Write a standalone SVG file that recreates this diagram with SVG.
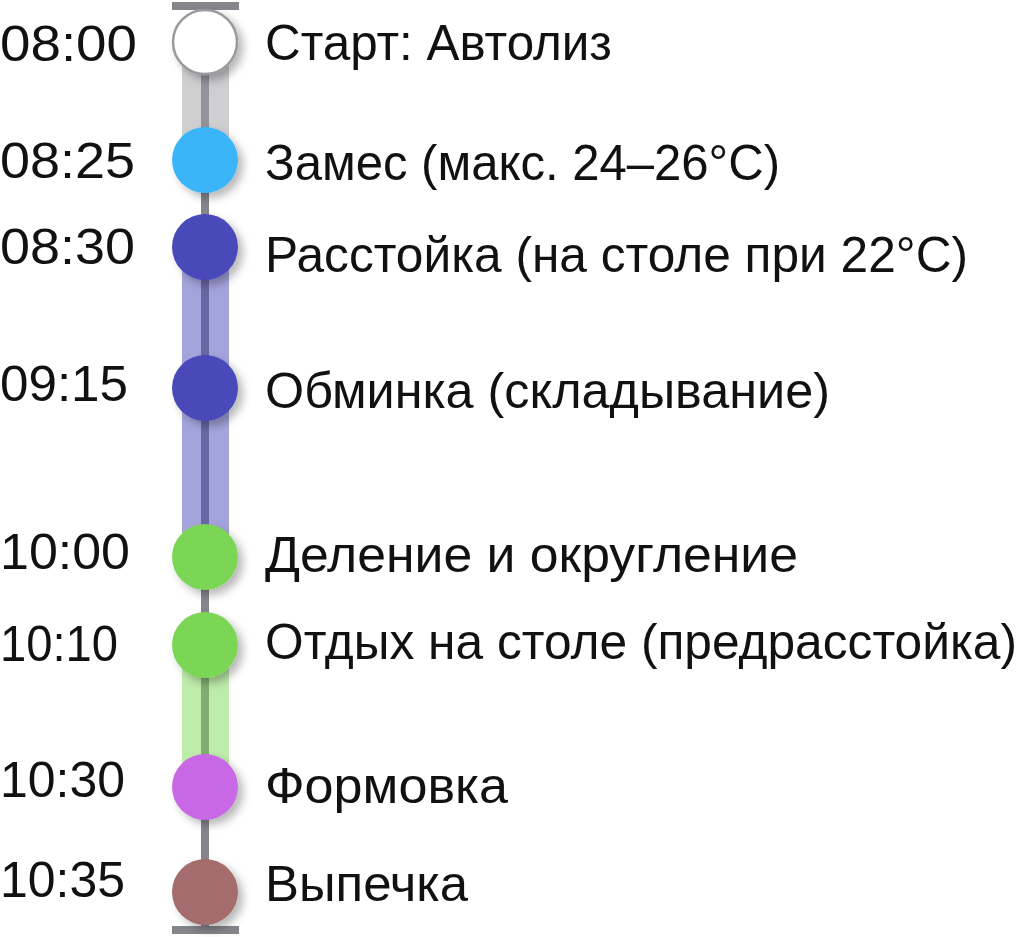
<svg xmlns="http://www.w3.org/2000/svg" width="1024" height="937" viewBox="0 0 1024 937">
<defs>
<filter id="sh" x="-50%" y="-50%" width="200%" height="200%">
<feDropShadow dx="5" dy="5" stdDeviation="4" flood-color="#000" flood-opacity="0.28"/>
</filter>
</defs>
<style>
text{font-family:"Liberation Sans","DejaVu Sans",sans-serif;font-size:50px;fill:#111}
.line{fill:#85858c}
.cap{fill:#85858c}
.dot{filter:url(#sh)}
</style>
<rect width="1024" height="937" fill="#fff"/>
<g id="connectors">
<rect class="line" x="201" y="6" width="8" height="924"/>
<rect x="182" y="42" width="47" height="118" fill="#a0a0a6" opacity="0.5"/>
<rect x="182" y="247" width="47" height="310" fill="#4a4aba" opacity="0.5"/>
<rect x="182" y="645" width="47" height="142" fill="#7ed957" opacity="0.5"/>
<rect class="cap" x="172" y="2" width="67" height="8"/>
<rect class="cap" x="172" y="926" width="67" height="8"/>
</g>
<g id="n0800">
<circle class="dot" cx="205" cy="42" r="32" fill="#fff" stroke="#9a9a9e" stroke-width="2.5"/>
<text x="0" y="61" textLength="137" lengthAdjust="spacingAndGlyphs">08:00</text>
<text x="265" y="60" textLength="347" lengthAdjust="spacingAndGlyphs">Старт: Автолиз</text>
</g>
<g id="n0825">
<circle class="dot" cx="205" cy="160" r="33" fill="#3bb5f8"/>
<text x="0" y="178" textLength="135" lengthAdjust="spacingAndGlyphs">08:25</text>
<text x="265" y="180" textLength="515" lengthAdjust="spacingAndGlyphs">Замес (макс. 24–26°C)</text>
</g>
<g id="n0830">
<circle class="dot" cx="205" cy="247" r="33" fill="#4949b9"/>
<text x="0" y="264" textLength="135" lengthAdjust="spacingAndGlyphs">08:30</text>
<text x="265" y="272" textLength="703" lengthAdjust="spacingAndGlyphs">Расстойка (на столе при 22°C)</text>
</g>
<g id="n0915">
<circle class="dot" cx="205" cy="388" r="33" fill="#4949b9"/>
<text x="0" y="401" textLength="128" lengthAdjust="spacingAndGlyphs">09:15</text>
<text x="265" y="408" textLength="565" lengthAdjust="spacingAndGlyphs">Обминка (складывание)</text>
</g>
<g id="n1000">
<circle class="dot" cx="205" cy="557" r="33" fill="#7cd657"/>
<text x="0" y="569" textLength="130" lengthAdjust="spacingAndGlyphs">10:00</text>
<text x="265" y="572" textLength="533" lengthAdjust="spacingAndGlyphs">Деление и округление</text>
</g>
<g id="n1010">
<circle class="dot" cx="205" cy="645" r="33" fill="#7cd657"/>
<text x="0" y="661" textLength="118" lengthAdjust="spacingAndGlyphs">10:10</text>
<text x="265" y="659" textLength="752" lengthAdjust="spacingAndGlyphs">Отдых на столе (предрасстойка)</text>
</g>
<g id="n1030">
<circle class="dot" cx="205" cy="787" r="33" fill="#c968e4"/>
<text x="0" y="797" textLength="125" lengthAdjust="spacingAndGlyphs">10:30</text>
<text x="265" y="803" textLength="243" lengthAdjust="spacingAndGlyphs">Формовка</text>
</g>
<g id="n1035">
<circle class="dot" cx="205" cy="892" r="33" fill="#a46c6c"/>
<text x="0" y="897" textLength="125" lengthAdjust="spacingAndGlyphs">10:35</text>
<text x="265" y="901" textLength="203" lengthAdjust="spacingAndGlyphs">Выпечка</text>
</g>
</svg>
